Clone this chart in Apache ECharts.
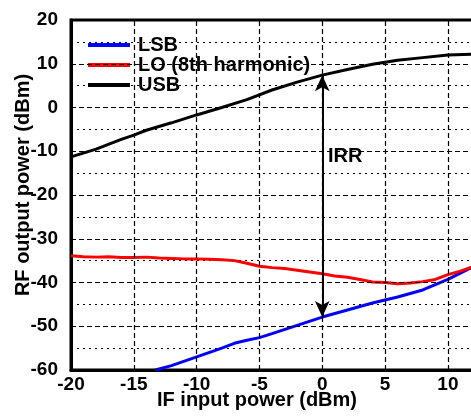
<!DOCTYPE html>
<html>
<head>
<meta charset="utf-8">
<script src="https://cdn.jsdelivr.net/npm/echarts@6/dist/echarts.min.js"></script>
<style>
  html, body { margin: 0; padding: 0; background: #fff; }
  #chart { width: 471px; height: 416px; }
</style>
</head>
<body>
<div id="chart"></div>
<script>
// values
const seriesNames = ['LSB', 'LO (8th harmonic)', 'USB']
const seriesColors = ['#0000ff', '#ff0000', '#000000']

const lsbData = [
  [-13.3, -60], [-12, -59], [-10, -57], [-8, -55], [-7, -53.9], [-6, -53.2],
  [-5, -52.6], [-4, -51.7], [-2, -49.8], [0, -47.9], [2, -46.3], [4, -44.7],
  [6, -43.3], [8, -41.7], [10, -39.3], [12, -36.4]
]
const loData = [
  [-20, -33.9], [-19, -34.1], [-18, -34.2], [-17, -34.1], [-16, -34.3], [-15, -34.3],
  [-14, -34.2], [-13, -34.4], [-12, -34.5], [-11, -34.6], [-10, -34.6], [-9, -34.7],
  [-8, -34.8], [-7, -35.0], [-6, -35.6], [-5, -36.3], [-4, -36.6], [-3, -36.8],
  [-2, -37.2], [-1, -37.6], [0, -38.0], [1, -38.5], [2, -38.8], [3, -39.3],
  [4, -39.9], [5, -40.0], [6, -40.3], [7, -40.1], [8, -39.8], [9, -39.3],
  [10, -38.2], [11, -37.4], [12, -36.4]
]
const usbData = [
  [-20, -11.3], [-18, -9.5], [-16, -7.3], [-15, -6.3], [-14, -5.2], [-12, -3.5],
  [-10, -1.7], [-8, 0], [-6, 1.8], [-4, 4.0], [-2, 5.8], [0, 7.4], [2, 8.7],
  [4, 9.9], [6, 10.8], [8, 11.4], [10, 12.0], [12, 12.2]
]

// major grid positions (inner ones; the frame covers the ends)
const xTicks = [-15, -10, -5, 0, 5, 10]
const yTicks = [-50, -40, -30, -20, -10, 0, 10]

const xMin = -20, xMax = 12, xStep = 5
const yMin = -60, yMax = 20, yStep = 10
const irrAt = 0

const chart = echarts.init(document.getElementById('chart'))
const font = 'Liberation Sans, Arial, sans-serif'
const boldText = { fontFamily: font, fontWeight: 'bold', color: '#000' }

const valueAt = (data, x) => data.find((d) => d[0] === x)[1]

const option = {
  animation: false,
  textStyle: { fontFamily: font },
  // grid border gives the heavy top edge; the right edge falls just outside the canvas
  grid: {
    left: 71, right: -2, top: 20, bottom: 46,
    show: true, borderColor: '#000', borderWidth: 3,
    containLabel: false, outerBoundsMode: 'none'
  },
  legend: {
    orient: 'vertical',
    left: 83,
    top: 30,
    itemGap: 0,
    itemWidth: 42,
    itemHeight: 4,
    icon: 'rect',
    textStyle: { ...boldText, fontSize: 20, padding: [0, 0, 0, 3] },
    data: seriesNames
  },
  xAxis: {
    type: 'value',
    min: xMin,
    max: xMax,
    interval: xStep,
    name: 'IF input power (dBm)',
    nameLocation: 'middle',
    nameGap: 20,
    nameMoveOverlap: false,
    nameTextStyle: { ...boldText, fontSize: 20, padding: [0, 30, 0, 0] },
    axisLine: { onZero: false, lineStyle: { color: '#000', width: 3 } },
    axisTick: { show: false },
    axisLabel: { ...boldText, fontSize: 19, margin: 5, showMaxLabel: false },
    splitLine: { show: false }
  },
  yAxis: {
    type: 'value',
    min: yMin,
    max: yMax,
    interval: yStep,
    name: 'RF output power (dBm)',
    nameLocation: 'middle',
    nameGap: 38,
    nameMoveOverlap: false,
    nameTextStyle: { ...boldText, fontSize: 20, padding: [0, 0, 0, 20] },
    axisLine: { show: true, onZero: false, lineStyle: { color: '#000', width: 3 } },
    axisTick: { show: false },
    axisLabel: { ...boldText, fontSize: 19, margin: 13 },
    splitLine: { show: false },
    minorTick: { show: false, splitNumber: 2 },
    minorSplitLine: { show: true, lineStyle: { color: '#000', width: 1, type: [2, 4] } }
  },
  series: [
    { data: lsbData },
    { data: loData },
    { data: usbData }
  ].map((s, i) => ({
    name: seriesNames[i],
    type: 'line',
    symbol: 'none',
    z: 3 + i,
    lineStyle: { color: seriesColors[i], width: 3 },
    itemStyle: { color: seriesColors[i] },
    data: s.data
  }))
}

// dashed major grid, drawn through the axes as mark lines under the curves
option.series.push({
  name: 'grid',
  type: 'line',
  symbol: 'none',
  silent: true,
  z: 2,
  lineStyle: { opacity: 0 },
  data: loData,
  markLine: {
    silent: true,
    symbol: ['none', 'none'],
    label: { show: false },
    lineStyle: { color: '#000', width: 1.2, type: [5, 3] },
    emphasis: { disabled: true },
    data: [
      ...xTicks.map((v) => ({ xAxis: v })),
      ...yTicks.map((v) => ({ yAxis: v }))
    ]
  }
})

// IRR arrow between USB and LSB at x = 0
option.series[2].markLine = {
  silent: true,
  symbol: ['arrow', 'arrow'],
  symbolSize: [11, 16],
  lineStyle: { color: '#000', width: 2, type: 'solid' },
  label: { show: false },
  data: [[
    { coord: [irrAt, valueAt(usbData, irrAt)] },
    { coord: [irrAt, valueAt(lsbData, irrAt)] }
  ]]
}

option.graphic = [{
  type: 'text',
  left: 328,
  top: 146,
  style: { text: 'IRR', fontFamily: font, fontSize: 20, fontWeight: 'bold', fill: '#000' }
}]

chart.setOption(option)
</script>
</body>
</html>
